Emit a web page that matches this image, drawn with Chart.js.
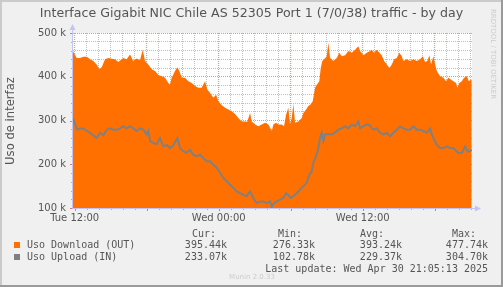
<!DOCTYPE html>
<html>
<head>
<meta charset="utf-8">
<script src="https://cdn.jsdelivr.net/npm/chart.js@4/dist/chart.umd.min.js"></script>
<style>
html, body { margin: 0; padding: 0; background: #f0f0f0; }
canvas { display: block; }
</style>
</head>
<body>
<canvas id="trafficChart" width="503" height="287"></canvas>
<script>
// hours after Tue 12:00, values in k
const downHours = [-0.14, -0.12, 0.17, 0.44, 0.72, 1.0, 1.28, 1.55, 1.83, 2.05,
    2.25, 2.53, 2.8, 3.08, 3.36, 3.63, 3.92, 4.05, 4.33, 4.61,
    4.88, 5.17, 5.44, 5.67, 5.86, 6.13, 6.42, 6.69, 6.97, 7.25,
    7.53, 7.8, 7.94, 8.08, 8.22, 8.36, 8.55, 8.72, 8.92, 9.19,
    9.47, 9.75, 10.03, 10.3, 10.58, 10.86, 11.05, 11.28, 11.55, 11.78,
    11.97, 12.25, 12.53, 12.8, 13.08, 13.36, 13.63, 13.92, 14.19, 14.38,
    14.61, 14.75, 15.03, 15.3, 15.58, 15.86, 16.13, 16.42, 16.55, 16.78,
    16.97, 17.25, 17.44, 17.61, 17.8, 17.94, 18.08, 18.22, 18.36, 18.63,
    18.92, 19.05, 19.28, 19.47, 19.67, 19.83, 20.03, 20.17, 20.38, 20.5,
    20.63, 20.78, 21.0, 21.13, 21.28, 21.55, 21.83, 22.05, 22.25, 22.53,
    22.8, 23.08, 23.36, 23.63, 23.78, 24.05, 24.33, 24.61, 24.75, 24.94,
    25.17, 25.38, 25.58, 25.78, 26.0, 26.22, 26.42, 26.61, 26.83, 27.05,
    27.25, 27.38, 27.67, 27.94, 28.22, 28.5, 28.78, 29.0, 29.19, 29.38,
    29.55, 29.69, 29.88, 30.03, 30.17, 30.44, 30.72, 30.94, 31.13, 31.33,
    31.55, 31.78, 31.88, 32.05, 32.25, 32.44, 32.67, 32.83, 33.03, 33.08];
const downValues = [459, 457, 443, 443, 446, 446, 440, 436, 428, 417,
    422, 440, 443, 441, 440, 434, 440, 443, 440, 451,
    436, 442, 438, 462, 436, 428, 417, 413, 404, 401,
    398, 386, 382, 398, 405, 413, 422, 413, 398, 398,
    390, 386, 379, 375, 375, 390, 371, 363, 352, 359,
    344, 335, 329, 325, 321, 315, 306, 298, 298, 297,
    317, 298, 291, 287, 291, 295, 291, 276, 291, 295,
    291, 291, 287, 313, 329, 291, 306, 338, 295, 298,
    306, 317, 325, 333, 337, 344, 375, 382, 390, 420,
    436, 440, 447, 477.7, 443, 436, 443, 455, 447, 449,
    459, 455, 462, 470, 459, 449, 455, 459, 462, 455,
    462, 455, 449, 436, 428, 420, 428, 440, 443, 455,
    447, 436, 440, 436, 440, 436, 440, 447, 434, 436,
    449, 428, 447, 428, 413, 401, 398, 390, 398, 394,
    390, 386, 375, 386, 390, 398, 401, 390, 394, 395.4];

const upHours = [-0.14, 0.03, 0.22, 0.44, 0.72, 1.0, 1.28, 1.55, 1.83, 2.11,
    2.38, 2.67, 2.94, 3.22, 3.5, 3.78, 4.05, 4.33, 4.61, 4.88,
    5.17, 5.44, 5.72, 6.0, 6.13, 6.28, 6.55, 6.83, 7.11, 7.38,
    7.67, 7.94, 8.22, 8.55, 8.77, 9.05, 9.33, 9.61, 9.88, 10.17,
    10.44, 10.72, 11.0, 11.28, 11.55, 11.83, 12.11, 12.38, 12.67, 12.94,
    13.22, 13.5, 13.78, 14.05, 14.33, 14.61, 14.88, 15.17, 15.44, 15.72,
    16.0, 16.28, 16.42, 16.61, 16.83, 17.11, 17.38, 17.61, 17.8, 18.0,
    18.22, 18.5, 18.78, 19.05, 19.33, 19.55, 19.75, 19.88, 20.11, 20.3,
    20.44, 20.58, 20.72, 20.86, 21.13, 21.42, 21.69, 21.97, 22.25, 22.53,
    22.8, 23.08, 23.36, 23.63, 23.78, 24.05, 24.33, 24.61, 24.75, 24.94,
    25.17, 25.44, 25.72, 26.0, 26.28, 26.55, 26.83, 27.11, 27.38, 27.67,
    27.94, 28.22, 28.5, 28.78, 29.05, 29.33, 29.61, 29.75, 29.88, 30.17,
    30.44, 30.72, 31.0, 31.28, 31.55, 31.78, 31.97, 32.25, 32.53, 32.72,
    32.94, 33.08];
const upValues = [304.7, 291, 279, 282, 282, 276, 272, 266, 260, 272,
    266, 279, 282, 279, 279, 282, 287, 282, 287, 282,
    276, 282, 279, 268, 276, 253, 249, 246, 260, 241,
    244, 237, 243, 260, 237, 230, 226, 233, 222, 218,
    222, 214, 207, 207, 199, 192, 180, 169, 161, 153,
    146, 138, 134, 130, 127, 138, 123, 111, 115, 115,
    111, 115, 102.8, 111, 115, 119, 123, 134, 130, 123,
    127, 134, 142, 150, 157, 176, 184, 203, 218, 237,
    260, 272, 253, 268, 269, 268, 272, 279, 282, 287,
    282, 291, 287, 298, 282, 287, 291, 289, 282, 279,
    282, 272, 268, 272, 264, 272, 279, 287, 282, 279,
    279, 287, 279, 279, 276, 272, 282, 268, 260, 244,
    237, 237, 241, 237, 237, 230, 226, 226, 241, 230,
    230, 233.1];

const xTickHours = [0, 12, 24];
const xTickNames = ["Tue 12:00", "Wed 00:00", "Wed 12:00"];

const seriesNames = ["Uso Download (OUT)", "Uso Upload (IN)"];
const statHeads = ["Cur:", "Min:", "Avg:", "Max:"];
const statDown = ["395.44k", "276.33k", "393.24k", "477.74k"];
const statUp = ["233.07k", "102.78k", "229.37k", "304.70k"];

const ORANGE = "#ff7000";
const GREY = "#808080";

function toPoints(xs, ys) {
    return xs.map((x, i) => ({ x: x, y: ys[i] }));
}

const minorGrid = "rgba(110,110,110,0.45)";
const majorGrid = "rgba(230,70,70,0.6)";

const muninDecor = {
    id: "muninDecor",
    beforeDraw(chart) {
        const c = chart.ctx;
        const a = chart.chartArea;
        c.save();
        c.fillStyle = "#f0f0f0";
        c.fillRect(0, 0, chart.width, chart.height);
        c.fillStyle = "#ffffff";
        c.fillRect(a.left, a.top, a.right - a.left, a.bottom - a.top);
        c.restore();
    },
    afterDraw(chart) {
        const c = chart.ctx;
        const a = chart.chartArea;
        const xs = chart.scales.x;
        const ys = chart.scales.y;
        c.save();

        // axis ticks
        c.lineWidth = 1;
        for (let h = 0; h <= 33; h++) {
            const px = Math.round(xs.getPixelForValue(h)) + 0.5;
            c.strokeStyle = h % 6 === 0 ? "#f07070" : "#b0b0b0";
            c.beginPath();
            c.moveTo(px, a.bottom);
            c.lineTo(px, a.bottom + (h % 6 === 0 ? 3 : 2));
            c.stroke();
        }
        for (let v = 100; v <= 500; v += 20) {
            const py = Math.round(ys.getPixelForValue(v)) + 0.5;
            c.strokeStyle = v % 100 === 0 ? "#f07070" : "#b0b0b0";
            c.beginPath();
            c.moveTo(a.left - (v % 100 === 0 ? 3 : 2), py);
            c.lineTo(a.left, py);
            c.stroke();
        }

        // axis lines with arrows
        c.strokeStyle = "#c4c4f4";
        c.fillStyle = "#c4c4f4";
        c.beginPath();
        c.moveTo(a.left - 0.5, a.bottom + 0.5);
        c.lineTo(a.left - 0.5, a.top - 4);
        c.moveTo(a.left - 0.5, a.bottom + 0.5);
        c.lineTo(a.right + 4, a.bottom + 0.5);
        c.stroke();
        c.beginPath();
        c.moveTo(a.left - 3.5, a.top - 3);
        c.lineTo(a.left - 0.5, a.top - 9);
        c.lineTo(a.left + 2.5, a.top - 3);
        c.fill();
        c.beginPath();
        c.moveTo(a.right + 3, a.bottom - 2.5);
        c.lineTo(a.right + 9, a.bottom + 0.5);
        c.lineTo(a.right + 3, a.bottom + 3.5);
        c.fill();

        // title
        c.fillStyle = "#555555";
        c.font = "12.6px 'DejaVu Sans'";
        c.textAlign = "center";
        c.textBaseline = "middle";
        c.fillText("Interface Gigabit NIC Chile AS 52305 Port 1 (7/0/38) traffic - by day", 251.5, 14);

        // y axis title
        c.save();
        c.translate(11, 121);
        c.rotate(-Math.PI / 2);
        c.font = "11.6px 'DejaVu Sans'";
        c.fillText("Uso de interfaz", 0, 0);
        c.restore();

        // vendor text on the right
        c.save();
        c.translate(493, 54);
        c.rotate(Math.PI / 2);
        c.fillStyle = "#cccccc";
        c.font = "7px 'DejaVu Sans'";
        c.fillText("RRDTOOL / TOBI OETIKER", 0, 0);
        c.restore();

        // legend
        c.font = "10px 'DejaVu Sans Mono'";
        c.fillStyle = "#555555";
        c.textAlign = "left";
        const headX = [192, 278, 360, 452];
        statHeads.forEach((t, i) => c.fillText(t, headX[i], 234));
        const valueRight = [227, 315, 402, 488];
        const rows = [[seriesNames[0], statDown, ORANGE, 245], [seriesNames[1], statUp, GREY, 257]];
        rows.forEach(r => {
            c.fillStyle = r[2];
            c.fillRect(14, r[3] - 3, 6, 6);
            c.fillStyle = "#555555";
            c.textAlign = "left";
            c.fillText(r[0], 27, r[3]);
            c.textAlign = "right";
            r[1].forEach((t, i) => c.fillText(t, valueRight[i], r[3]));
        });
        c.textAlign = "right";
        c.fillText("Last update: Wed Apr 30 21:05:13 2025", 488, 269);

        c.textAlign = "center";
        c.fillStyle = "#cccccc";
        c.font = "7px 'DejaVu Sans'";
        c.fillText("Munin 2.0.33", 252, 277);

        // frame
        c.fillStyle = "#cbcbcb";
        c.fillRect(0, 0, chart.width, 2);
        c.fillRect(0, 0, 2, chart.height);
        c.fillStyle = "#9a9a9a";
        c.fillRect(0, chart.height - 2, chart.width, 2);
        c.fillRect(chart.width - 2, 0, 2, chart.height);
        c.restore();
    }
};

new Chart(document.getElementById("trafficChart"), {
    type: "line",
    data: {
        datasets: [{
            label: seriesNames[0],
            data: toPoints(downHours, downValues),
            order: 2,
            borderWidth: 0,
            borderColor: ORANGE,
            backgroundColor: ORANGE,
            fill: "start",
            pointRadius: 0,
            tension: 0
        }, {
            label: seriesNames[1],
            data: toPoints(upHours, upValues),
            order: 1,
            borderWidth: 2,
            borderColor: GREY,
            fill: false,
            pointRadius: 0,
            tension: 0
        }]
    },
    options: {
        responsive: false,
        devicePixelRatio: 1,
        animation: false,
        layout: { padding: { left: 0, top: 33, right: 31, bottom: 0 } },
        plugins: {
            legend: { display: false },
            title: { display: false },
            tooltip: { enabled: false }
        },
        scales: {
            x: {
                type: "linear",
                min: -0.14,
                max: 33.1,
                z: 1,
                afterFit(scale) { scale.height = 79; },
                border: { display: false, dash: [1, 1] },
                grid: {
                    drawTicks: false,
                    lineWidth: 1,
                    color: ctx => {
                        const v = ctx.tick.value;
                        if (!Number.isInteger(v)) return "rgba(0,0,0,0)";
                        return v % 6 === 0 ? majorGrid : minorGrid;
                    }
                },
                ticks: {
                    stepSize: 1,
                    includeBounds: false,
                    autoSkip: false,
                    maxRotation: 0,
                    padding: 4,
                    color: "#555555",
                    font: { family: "DejaVu Sans", size: 10 },
                    callback: v => {
                        const i = xTickHours.indexOf(v);
                        return i >= 0 ? xTickNames[i] : "";
                    }
                }
            },
            y: {
                min: 100,
                max: 500,
                z: 1,
                afterFit(scale) { scale.width = 73; },
                border: { display: false, dash: [1, 1] },
                grid: {
                    drawTicks: false,
                    lineWidth: 1,
                    color: ctx => ctx.tick.value % 100 === 0 ? majorGrid : minorGrid
                },
                ticks: {
                    stepSize: 20,
                    autoSkip: false,
                    padding: 7,
                    color: "#555555",
                    font: { family: "DejaVu Sans", size: 10 },
                    callback: v => v % 100 === 0 ? v + " k" : ""
                }
            }
        }
    },
    plugins: [muninDecor]
});
</script>
</body>
</html>
